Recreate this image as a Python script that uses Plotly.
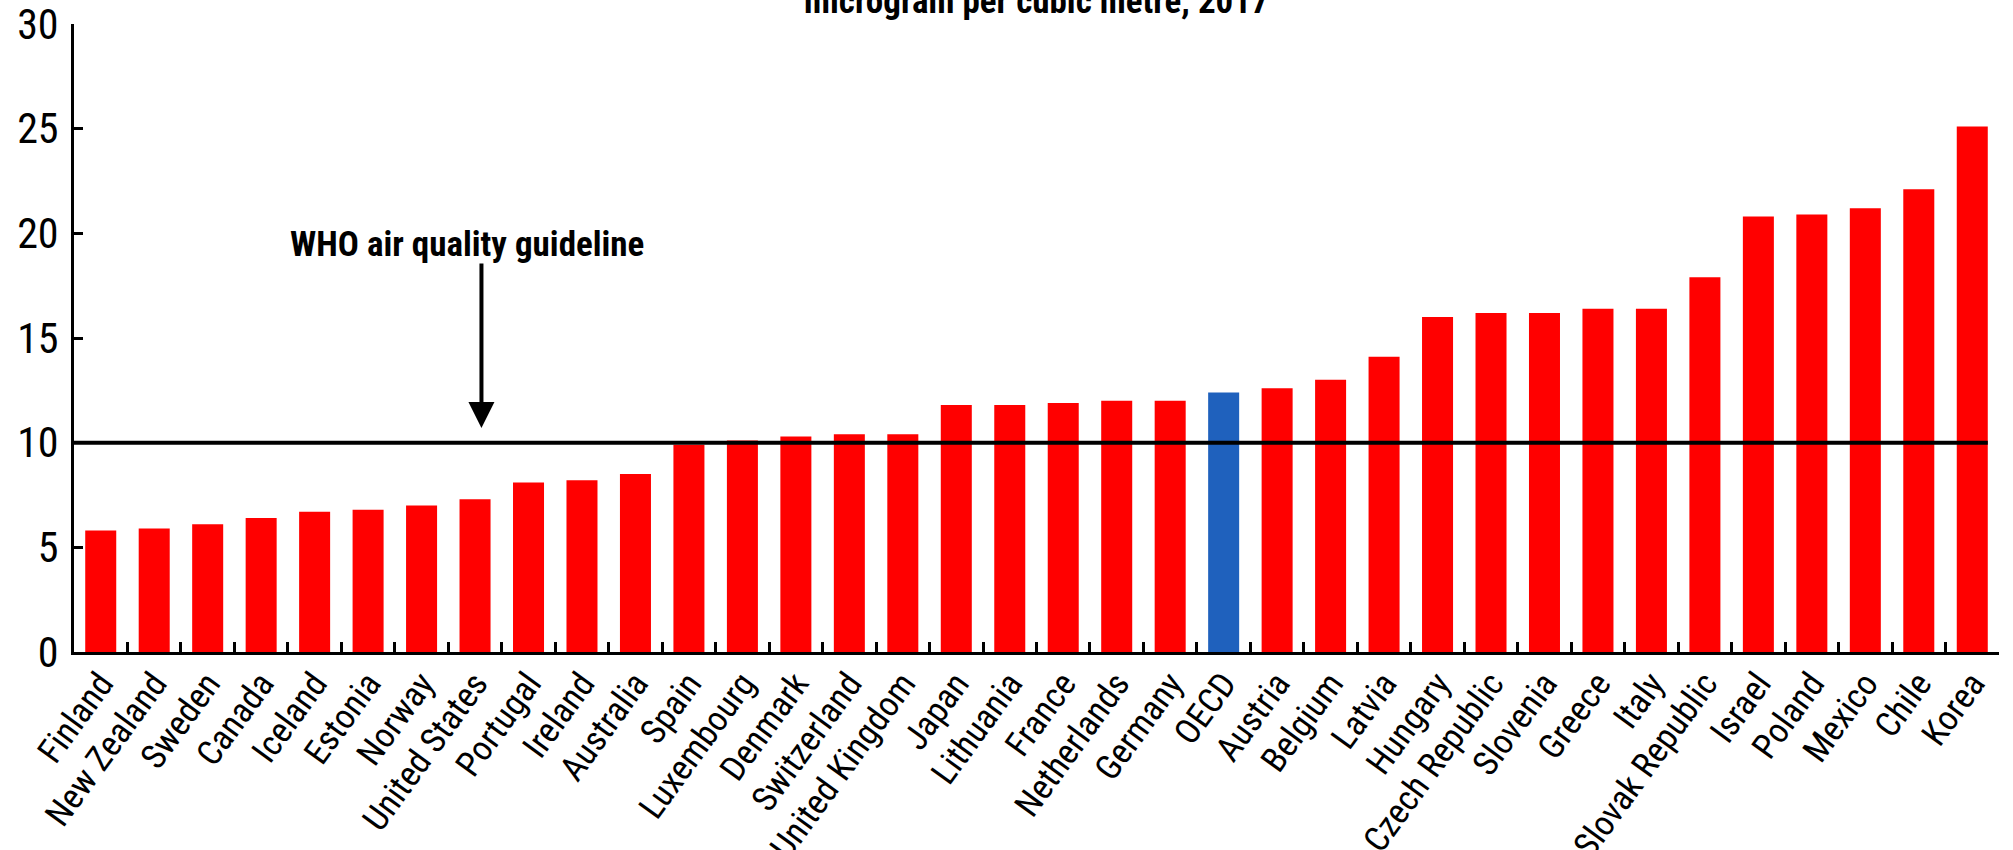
import plotly.graph_objects as go

# PM2.5 exposure by country, microgram per cubic metre, 2017
countries = [
    "Finland", "New Zealand", "Sweden", "Canada", "Iceland", "Estonia", "Norway",
    "United States", "Portugal", "Ireland", "Australia", "Spain", "Luxembourg",
    "Denmark", "Switzerland", "United Kingdom", "Japan", "Lithuania", "France",
    "Netherlands", "Germany", "OECD", "Austria", "Belgium", "Latvia", "Hungary",
    "Czech Republic", "Slovenia", "Greece", "Italy", "Slovak Republic", "Israel",
    "Poland", "Mexico", "Chile", "Korea",
]
pm25 = [
    5.8, 5.9, 6.1, 6.4, 6.7, 6.8, 7.0,
    7.3, 8.1, 8.2, 8.5, 9.9, 10.1,
    10.3, 10.4, 10.4, 11.8, 11.8, 11.9,
    12.0, 12.0, 12.4, 12.6, 13.0, 14.1, 16.0,
    16.2, 16.2, 16.4, 16.4, 17.9, 20.8,
    20.9, 21.2, 22.1, 25.1,
]
y_ticks = [0, 5, 10, 15, 20, 25, 30]

who_guideline = 10
title_text = "microgram per cubic metre, 2017"
guideline_text = "WHO air quality guideline"

RED = "#ff0000"
BLUE = "#1f61bd"
FONT = ("Liberation Sans Narrow, Arial Narrow, Noto Sans Condensed, "
        "Roboto Condensed, Liberation Sans, Arial, sans-serif")

bar_colors = [BLUE if c == "OECD" else RED for c in countries]
bar_width = 0.58

fig = go.Figure(
    go.Bar(
        x=countries,
        y=pm25,
        marker=dict(color=bar_colors, line=dict(width=0)),
        width=bar_width,
        hoverinfo="x+y",
    )
)

n = len(countries)

# Guideline line drawn over the bars
fig.add_shape(
    type="line",
    xref="x", yref="y",
    x0=-0.5, x1=(n - 1) + bar_width / 2,
    y0=who_guideline, y1=who_guideline,
    line=dict(color="black", width=4),
    layer="above",
)

# Guideline label and arrow pointing to the line
fig.add_annotation(
    x=6.85, y=19.45, xref="x", yref="y",
    text="<b>" + guideline_text + "</b>",
    showarrow=False,
    font=dict(family=FONT, size=35, color="black"),
    xanchor="center", yanchor="middle",
)
fig.add_annotation(
    x=7.12, y=10.7, xref="x", yref="y",
    ax=7.12, ay=18.63, axref="x", ayref="y",
    text="",
    showarrow=True,
    arrowhead=2, arrowsize=1.3, arrowwidth=4, arrowcolor="black",
    standoff=0,
)

# Chart subtitle (partly above the page edge)
fig.add_annotation(
    x=0.5, y=1.0, xref="paper", yref="paper",
    text="<b>" + title_text + "</b>",
    showarrow=False,
    font=dict(family=FONT, size=35, color="black"),
    xanchor="center", yanchor="bottom",
)

fig.update_layout(
    width=2013,
    height=850,
    margin=dict(l=74, r=14, t=24, b=198, autoexpand=False),
    paper_bgcolor="white",
    plot_bgcolor="white",
    showlegend=False,
    font=dict(family=FONT, color="black"),
)

fig.update_xaxes(
    type="category",
    range=[-0.5, n - 0.5],
    tickson="boundaries",
    ticks="inside",
    ticklen=10,
    tickwidth=2.5,
    tickcolor="black",
    showline=True,
    linewidth=3,
    linecolor="black",
    showgrid=False,
    tickangle=-54,
    ticklabelstandoff=-6,
    tickfont=dict(family=FONT, size=35, color="black"),
    automargin=False,
)

fig.update_yaxes(
    range=[0, 30],
    tickvals=y_ticks,
    ticktext=[str(v) for v in y_ticks],
    ticks="inside",
    ticklen=9,
    tickwidth=3,
    tickcolor="black",
    showline=True,
    linewidth=3,
    linecolor="black",
    showgrid=False,
    zeroline=False,
    ticklabelstandoff=4,
    ticklabeloverflow="allow",
    tickfont=dict(family=FONT, size=42, color="black"),
    automargin=False,
)

fig.write_html("out.html")
